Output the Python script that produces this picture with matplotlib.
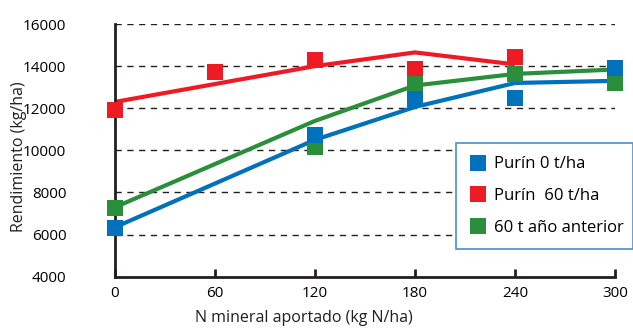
import matplotlib.pyplot as plt
from matplotlib.lines import Line2D

plt.rcParams['font.family'] = ['Open Sans', 'DejaVu Sans']

# N doses (kg N/ha)
n_dose = [0, 60, 120, 180, 240, 300]

# Measured yields (kg/ha), squares
obs_0t = [6300, None, 10750, 12450, 12500, 13900]
obs_60t = [11900, 13700, 14300, 13850, 14430]
obs_prev = [7250, None, 10150, 13170, 13620, 13210]

# Fitted response curves (kg/ha)
fit_n_0t = [0, 120, 180, 240, 300]
fit_0t = [6350, 10500, 12060, 13200, 13300]
fit_n_60t = [0, 120, 180, 240]
fit_60t = [12300, 14000, 14650, 14080]
fit_n_prev = [0, 120, 180, 240, 300]
fit_prev = [7300, 11400, 13080, 13630, 13840]

labels = ['Purín 0 t/ha', 'Purín  60 t/ha', '60 t año anterior']
colors = ['#0071BC', '#ED1C24', '#2A8F3B']

fig = plt.figure(figsize=(6.33, 3.3), dpi=100)
ax = fig.add_axes([115 / 633, 53.3 / 330, 500 / 633, 252.7 / 330])

# dashed reference lines
for yv in range(6000, 16001, 2000):
    ax.plot([0, 300], [yv, yv], color='#231F20', lw=1, ls=(0, (4.5, 4)), zorder=1)

ax.plot(fit_n_0t, fit_0t, color=colors[0], lw=3, zorder=2, solid_capstyle='butt')
ax.plot(fit_n_60t, fit_60t, color=colors[1], lw=3, zorder=2, solid_capstyle='butt')
ax.plot(fit_n_prev, fit_prev, color=colors[2], lw=3, zorder=2, solid_capstyle='butt')

def pts(xs, ys):
    pairs = [(x, y) for x, y in zip(xs, ys) if y is not None]
    return [p[0] for p in pairs], [p[1] for p in pairs]

x, y = pts(n_dose, obs_60t)
ax.plot(x, y, 's', color=colors[1], ms=12, mew=0, zorder=4, clip_on=False)
x, y = pts(n_dose, obs_prev)
ax.plot(x, y, 's', color=colors[2], ms=12, mew=0, zorder=5, clip_on=False)
x, y = pts(n_dose, obs_0t)
ax.plot(x, y, 's', color=colors[0], ms=12, mew=0, zorder=5, clip_on=False)

ax.set_xlim(0, 300)
ax.set_ylim(4000, 16000)
ax.set_xticks(n_dose)
ax.set_yticks(range(4000, 16001, 2000))
ax.tick_params(axis='x', direction='in', length=6, width=2, color='#231F20',
               labelsize=11, pad=7)
ax.tick_params(axis='y', length=0, labelsize=11, pad=35)
for s in ['top', 'right']:
    ax.spines[s].set_visible(False)
for s in ['left', 'bottom']:
    ax.spines[s].set_linewidth(2)
    ax.spines[s].set_color('#231F20')
    ax.spines[s].set_zorder(3)

fig.text(304 / 633, 1 - 318 / 330, 'N mineral aportado (kg N/ha)',
         ha='center', va='center', fontsize=11.5, color='#231F20')
fig.text(19 / 633, 1 - 157 / 330, 'Rendimiento (kg/ha)', rotation=90,
         ha='center', va='center', fontsize=11.5, color='#231F20')

handles = [Line2D([], [], marker='s', ls='none', color=c, ms=12, mew=0) for c in colors]
leg = ax.legend(handles, labels, loc='upper left', mode='expand',
                bbox_to_anchor=((456 - 115) / 500, 0.110, 177 / 500, 0.419),
                fontsize=12, frameon=True, fancybox=False, framealpha=1,
                edgecolor='#4A8FD0', handlelength=1.0, handletextpad=0.5,
                labelspacing=0.95, borderpad=0.8, borderaxespad=0)
leg.get_frame().set_linewidth(1.2)
leg.set_zorder(6)

fig.savefig('out.png', dpi=100)
